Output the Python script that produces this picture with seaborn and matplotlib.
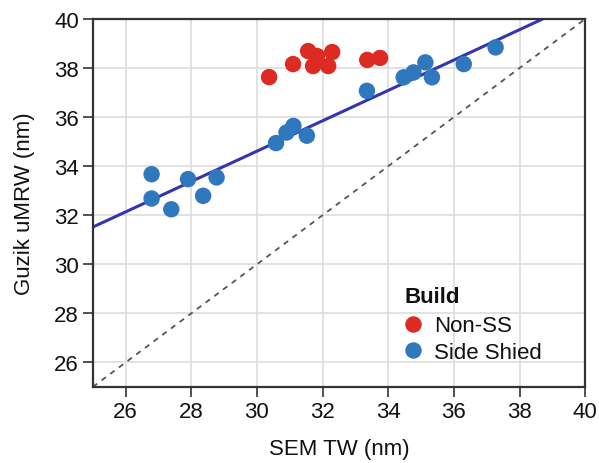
import numpy as np
import pandas as pd
import seaborn as sns
import matplotlib.pyplot as plt

# %% data ______________________________________________________________
non_ss_x = [30.37, 31.10, 31.56, 31.83, 31.71, 32.29, 32.17, 33.36, 33.75]
non_ss_y = [37.63, 38.16, 38.69, 38.49, 38.08, 38.65, 38.08, 38.33, 38.41]

side_x = [26.79, 26.79, 27.39, 27.90, 28.36, 28.77, 30.58, 30.90, 31.11, 31.52,
          33.35, 34.47, 34.77, 35.13, 35.33, 36.30, 37.27]
side_y = [33.67, 32.68, 32.24, 33.47, 32.79, 33.54, 34.94, 35.37, 35.64, 35.24,
          37.07, 37.62, 37.82, 38.23, 37.62, 38.16, 38.84]

build_labels = ['Non-SS', 'Side Shied']
build_colors = ['#dd2a22', '#2f78bd']
ticks = [26, 28, 30, 32, 34, 36, 38, 40]

df = pd.DataFrame({
    'SEM TW (nm)': non_ss_x + side_x,
    'Guzik uMRW (nm)': non_ss_y + side_y,
    'Build': [build_labels[0]] * len(non_ss_x) + [build_labels[1]] * len(side_x),
})

# %% plot ______________________________________________________________
sns.set_theme(style="whitegrid")
plt.rcParams['font.family'] = ['Liberation Sans', 'DejaVu Sans']
plt.rcParams['text.color'] = '#111111'
plt.rcParams['axes.labelcolor'] = '#111111'
plt.rcParams['xtick.color'] = '#333333'
plt.rcParams['ytick.color'] = '#333333'
plt.rcParams['xtick.labelcolor'] = '#111111'
plt.rcParams['ytick.labelcolor'] = '#111111'

fig, ax = plt.subplots(figsize=(5.99, 4.64), dpi=100)
fig.subplots_adjust(left=0.155, right=0.977, top=0.957, bottom=0.164)

# identity line
ax.axline((25, 25), slope=1, color='#555555', ls=(0, (3, 3)), lw=1.3, zorder=1)

# fit on side shield builds
slope, intercept = np.polyfit(side_x, side_y, 1)
ax.axline((25, intercept + slope * 25), slope=slope, color='#3535b0', lw=2.2, zorder=2)

sns.scatterplot(data=df, x='SEM TW (nm)', y='Guzik uMRW (nm)', hue='Build',
                palette=build_colors, s=140, linewidth=0, ax=ax, zorder=3)

ax.set_xlim(25, 40)
ax.set_ylim(25, 40)
ax.set_xticks(ticks)
ax.set_yticks(ticks)
ax.tick_params(axis='both', labelsize=16, length=7, width=1.2,
               direction='out', bottom=True, left=True, pad=3)
ax.set_xlabel('SEM TW (nm)', fontsize=16, labelpad=12)
ax.set_ylabel('Guzik uMRW (nm)', fontsize=16, labelpad=14)
ax.grid(color='#dddddd', lw=1.2)
for sp in ax.spines.values():
    sp.set_color('#333333')
    sp.set_linewidth(1.6)

leg = ax.legend(title='Build', loc='lower right', bbox_to_anchor=(0.912, 0.065),
                frameon=False, fontsize=16, title_fontsize=16, handlelength=0.8,
                handletextpad=0.55, borderaxespad=0, labelspacing=0.25, borderpad=0)
leg.get_title().set_fontweight('bold')
leg._legend_box.align = 'left'
leg._legend_box.sep = 6

fig.savefig('out.png', dpi=100)
